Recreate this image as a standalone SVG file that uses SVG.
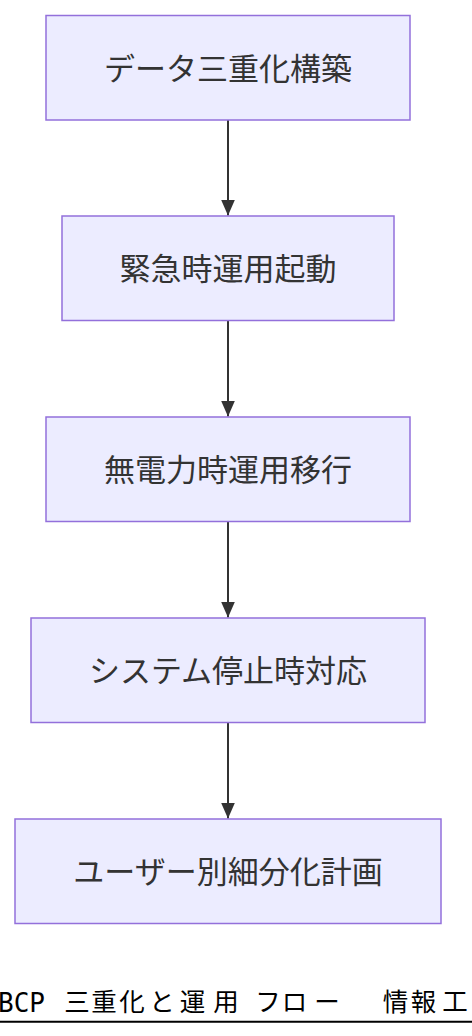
<svg xmlns="http://www.w3.org/2000/svg" width="472" height="1036" viewBox="0 0 472 1036">
<style>
.node rect{fill:#ECECFF;stroke:#9370DB;stroke-width:1.5}
.node text{font-family:"Noto Sans CJK JP","Noto Sans",sans-serif;font-size:31px;fill:#333333;text-anchor:middle;dominant-baseline:central}
.edge{stroke:#333333;stroke-width:2;fill:none}
.title{font-family:"Noto Sans CJK JP","Noto Sans",sans-serif;font-size:25.5px;fill:#000000}
</style>
<defs>
<marker id="arrow" viewBox="0 0 16 14" refX="16" refY="7" markerWidth="16" markerHeight="14" markerUnits="userSpaceOnUse" orient="auto">
<path d="M0,0 L16,7 L0,14 z" fill="#333333"/>
</marker>
</defs>
<rect width="472" height="1036" fill="#ffffff"/>
<g id="connectors">
<line class="edge" x1="228" y1="120" x2="228" y2="215.5" marker-end="url(#arrow)"/>
<line class="edge" x1="228" y1="320.8" x2="228" y2="416.5" marker-end="url(#arrow)"/>
<line class="edge" x1="228" y1="521.5" x2="228" y2="617.5" marker-end="url(#arrow)"/>
<line class="edge" x1="228" y1="722.5" x2="228" y2="818.5" marker-end="url(#arrow)"/>
</g>
<g id="n1" class="node"><rect x="46" y="15.5" width="364" height="104.5"/><text x="228" y="66">データ三重化構築</text></g>
<g id="n2" class="node"><rect x="62" y="216" width="332" height="104.5"/><text x="228" y="266.5">緊急時運用起動</text></g>
<g id="n3" class="node"><rect x="46" y="417" width="364" height="104.5"/><text x="228" y="467.5">無電力時運用移行</text></g>
<g id="n4" class="node"><rect x="31" y="618" width="394" height="104.5"/><text x="228" y="668.5">システム停止時対応</text></g>
<g id="n5" class="node"><rect x="15" y="819" width="426" height="104.5"/><text x="228" y="869.5">ユーザー別細分化計画</text></g>
<g id="title">
<text x="-2" y="1012" font-family="'DejaVu Sans Mono',monospace" font-size="26" fill="#000000">BCP</text>
<text class="title" y="1010.5" text-anchor="middle" x="77 104 132 162 192.5 226 268 294.5 327 395.5 423.5 455">三重化と運用フロー情報工</text>
<line x1="0" y1="1021.7" x2="472" y2="1021.7" stroke="#000000" stroke-width="2"/>
</g>
</svg>
